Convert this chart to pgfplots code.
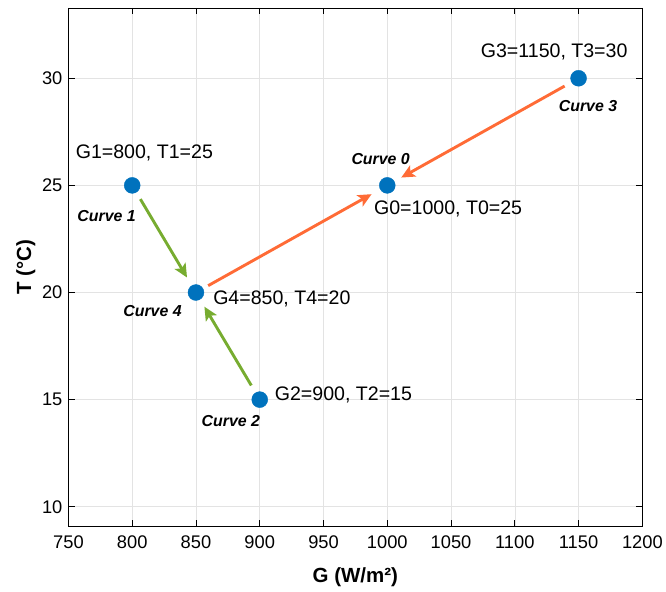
\documentclass[border=0pt]{standalone}
\usepackage{pgfplots}
\pgfplotsset{compat=1.18}
\usepackage{fontspec}
\setmainfont{Liberation Sans}
\usetikzlibrary{arrows.meta}
\definecolor{mblue}{rgb}{0,0.447,0.741}
\definecolor{morange}{rgb}{1,0.42,0.21}
\definecolor{mgreen}{rgb}{0.466,0.674,0.188}
\begin{document}
\begin{tikzpicture}
\begin{axis}[name=ax, scale only axis, width=574.5pt, height=519pt,
  xmin=750, xmax=1200, ymin=9.08, ymax=33.28,
  xtick={750,800,...,1200}, ytick={10,15,...,30},
  tick align=inside, major tick length=6.5pt,
  grid=major, grid style={black!11, line width=0.6pt},
  axis line style={line width=0.8pt}, tick style={black, line width=0.8pt},
  tick label style={font=\fontsize{18.3}{18.3}\selectfont},
  /pgf/number format/assume math mode=true,
  /pgf/number format/1000 sep={},
  xticklabel style={yshift=-6pt},
  yticklabel style={xshift=-2.5pt},
  xlabel={G (W/m²)}, ylabel={T (°C)},
  every axis x label/.style={at={([yshift=-41pt]axis description cs:0.5,0)}, anchor=north, inner sep=0pt, font=\bfseries\fontsize{20.5}{20.5}\selectfont},
  every axis y label/.style={at={([xshift=-33pt]axis description cs:0,0.5)}, rotate=90, anchor=south, inner sep=0pt, font=\bfseries\fontsize{20.5}{20.5}\selectfont},
  clip=false,
]
\addplot[morange, line width=2.9pt, -{Stealth[length=13.5pt, width=12.5pt, inset=3pt]}, shorten <=14pt, shorten >=18pt] coordinates {(850,20) (1000,25)};
\addplot[morange, line width=2.9pt, -{Stealth[length=13.5pt, width=12.5pt, inset=3pt]}, shorten <=16pt, shorten >=16pt] coordinates {(1150,30) (1000,25)};
\addplot[mgreen, line width=2.9pt, -{Stealth[length=13.5pt, width=12.5pt, inset=3pt]}, shorten <=16pt, shorten >=17.5pt] coordinates {(800,25) (850,20)};
\addplot[mgreen, line width=2.9pt, -{Stealth[length=13.5pt, width=12.5pt, inset=3pt]}, shorten <=16.5pt, shorten >=16.5pt] coordinates {(900,15) (850,20)};
\addplot[only marks, mark=*, mark size=8pt, mark options={fill=mblue, draw=mblue}] coordinates {(1000,25) (800,25) (900,15) (1150,30) (850,20)};
\begin{scope}[every node/.style={inner sep=0pt, font=\fontsize{19.6}{19.6}\selectfont}]
\node[anchor=base west] at (axis cs:755.6,26.27) {G1=800, T1=25};
\node[anchor=base west] at (axis cs:911.7,14.97) {G2=900, T2=15};
\node[anchor=base west] at (axis cs:863.4,19.46) {G4=850, T4=20};
\node[anchor=base west] at (axis cs:989.5,23.63) {G0=1000, T0=25};
\node[anchor=base east] at (axis cs:1188.5,30.98) {G3=1150, T3=30};
\end{scope}
\begin{scope}[every node/.style={inner sep=0pt, anchor=base west, font=\bfseries\itshape\fontsize{15.9}{15.9}\selectfont}]
\node at (axis cs:756.9,23.31) {Curve 1};
\node at (axis cs:854.3,13.73) {Curve 2};
\node at (axis cs:792.9,18.89) {Curve 4};
\node at (axis cs:971.8,25.96) {Curve 0};
\node at (axis cs:1134.4,28.44) {Curve 3};
\end{scope}
\end{axis}
\path ([shift={(-68.5pt,-65pt)}]ax.south west) rectangle ([shift={(23pt,8pt)}]ax.north east);
\end{tikzpicture}
\end{document}
